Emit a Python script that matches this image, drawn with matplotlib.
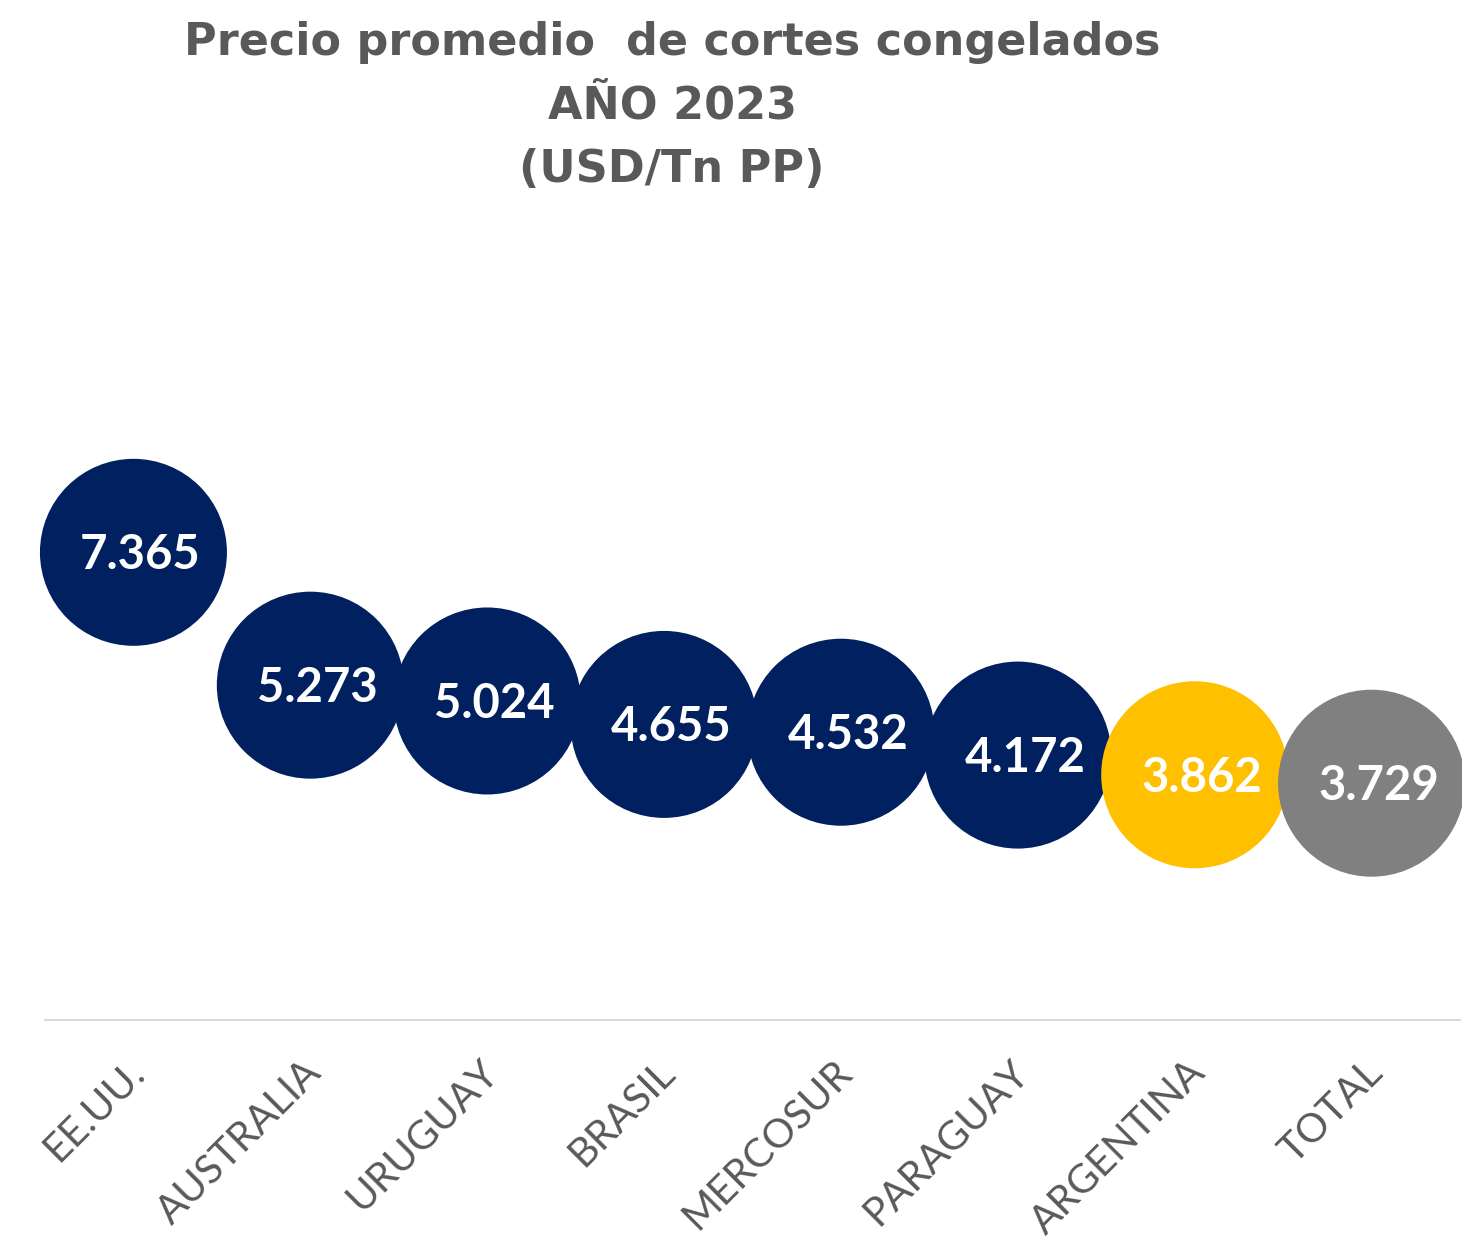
import matplotlib
matplotlib.use("Agg")
import matplotlib.pyplot as plt
from matplotlib.transforms import ScaledTranslation

categories = ["EE.UU.", "AUSTRALIA", "URUGUAY", "BRASIL", "MERCOSUR", "PARAGUAY", "ARGENTINA", "TOTAL"]
values = [7.365, 5.273, 5.024, 4.655, 4.532, 4.172, 3.862, 3.729]
value_labels = ["7.365", "5.273", "5.024", "4.655", "4.532", "4.172", "3.862", "3.729"]
colors = ["#002060", "#002060", "#002060", "#002060", "#002060", "#002060", "#FFC000", "#808080"]

W, H = 1462, 1243
fig = plt.figure(figsize=(W / 100, H / 100), dpi=100)
ax = fig.add_axes([45 / W, (H - 1020) / H, 1415 / W, 762 / H])

x = list(range(len(categories)))
ax.scatter(x, values, s=(187 * 0.72) ** 2, c=colors, clip_on=False, zorder=3, linewidths=0)
for xi, v, lab in zip(x, values, value_labels):
    ax.annotate(lab, (xi, v), xytext=(5, -2), textcoords="offset points",
                ha="center", va="center", color="white", fontsize=34,
                fontweight="bold", family="Lato", zorder=4)

ax.set_xlim(-0.5, len(categories) - 0.5)
ax.set_ylim(0, 12)
ax.set_yticks([])
for s in ["top", "right", "left"]:
    ax.spines[s].set_visible(False)
ax.spines["bottom"].set_color("#D9D9D9")
ax.spines["bottom"].set_linewidth(1.5)
ax.set_xticks(x)
ax.set_xticklabels(categories, rotation=45, ha="right", va="top",
                   rotation_mode="anchor", fontsize=29, color="#595959",
                   family="Lato", fontweight="normal")
ax.tick_params(axis="x", length=0, pad=24)
off = ScaledTranslation(-0.08, 0, fig.dpi_scale_trans)
for t in ax.get_xticklabels():
    t.set_transform(t.get_transform() + off)

title_kw = dict(ha="center", va="center", fontsize=32, fontweight="bold",
                color="#595959", family="DejaVu Sans")
fig.text(672 / W, 1 - 43 / H, "Precio promedio  de cortes congelados", **title_kw)
fig.text(672 / W, 1 - 106 / H, "AÑO 2023", **title_kw)
fig.text(672 / W, 1 - 169 / H, "(USD/Tn PP)", **title_kw)

fig.savefig("out.png", dpi=100, facecolor="white")
